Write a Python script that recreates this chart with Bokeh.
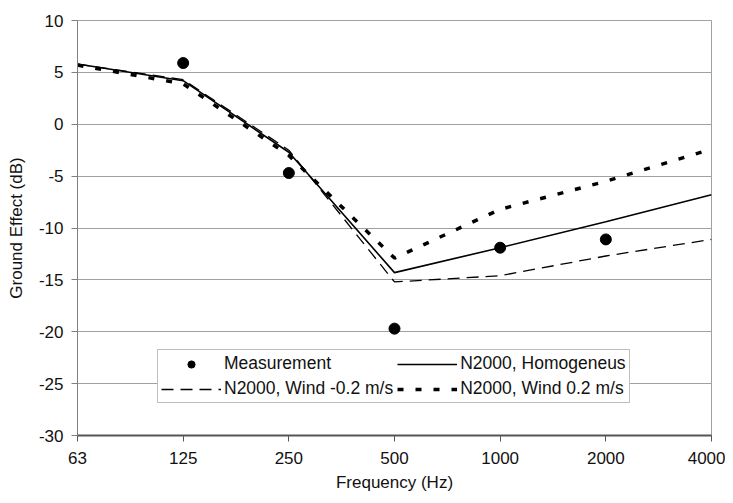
from bokeh.plotting import figure
from bokeh.models import FixedTicker, Legend, LegendItem, Range1d
from bokeh.embed import file_html
from bokeh.resources import INLINE

freq_labels = ["63", "125", "250", "500", "1000", "2000", "4000"]
x_idx = list(range(len(freq_labels)))

meas_x = [1, 2, 3, 4, 5]
meas_y = [5.9, -4.7, -19.7, -11.9, -11.1]

homog = [5.8, 4.2, -2.7, -14.3, -11.9, -9.4, -6.8]
wind_neg = [5.8, 4.3, -2.5, -15.2, -14.6, -12.7, -11.1]
wind_pos = [5.7, 3.9, -3.0, -12.9, -8.2, -5.5, -2.4]

y_ticks = [-30, -25, -20, -15, -10, -5, 0, 5, 10]
y_tick_labels = ["-30", "-25", "-20", "-15", "-10", "-5", "0", "5", "10"]

FONT = "Liberation Sans"
W, H = 725, 494
LEFT, TOP, RIGHT, BOTTOM = 77, 20, 711, 438

p = figure(width=W, height=H, output_backend="svg", toolbar_location=None,
           x_range=Range1d(0, 6), y_range=Range1d(-30, 10),
           min_border_left=LEFT, min_border_top=TOP,
           min_border_right=W - RIGHT, min_border_bottom=H - BOTTOM)

p.background_fill_color = "white"
p.border_fill_color = "white"
p.outline_line_color = "#a0a0a0"
p.outline_line_width = 1

p.xgrid.visible = False
p.ygrid.ticker = FixedTicker(ticks=y_ticks)
p.ygrid.grid_line_color = "#a0a0a0"
p.ygrid.grid_line_width = 1

p.xaxis.ticker = FixedTicker(ticks=x_idx)
p.xaxis.major_label_overrides = {i: s for i, s in zip(x_idx, freq_labels)}
p.yaxis.ticker = FixedTicker(ticks=y_ticks)
p.yaxis.major_label_overrides = {t: s for t, s in zip(y_ticks, y_tick_labels)}
p.xaxis.minor_tick_line_color = None
p.yaxis.minor_tick_line_color = None

for ax in (p.xaxis[0], p.yaxis[0]):
    ax.major_tick_in = 0
    ax.major_tick_out = 6
    ax.major_label_text_font = FONT
    ax.major_label_text_font_size = "17px"
    ax.major_label_text_color = "#111111"
    ax.axis_label_text_font = FONT
    ax.axis_label_text_font_size = "17px"
    ax.axis_label_text_font_style = "normal"
    ax.axis_label_text_color = "#111111"

p.xaxis.axis_line_color = "#555555"
p.xaxis.axis_line_width = 2
p.xaxis.major_tick_line_color = "#555555"
p.yaxis.axis_line_color = "#808080"
p.yaxis.axis_line_width = 1
p.yaxis.major_tick_line_color = "#808080"
p.xaxis.major_label_standoff = 10
p.yaxis.major_label_standoff = 8
p.xaxis.axis_label = "Frequency (Hz)"
p.yaxis.axis_label = "Ground Effect (dB)"
p.xaxis.axis_label_standoff = 6
p.yaxis.axis_label_standoff = 10

r_wn = p.line(x_idx, wind_neg, line_color="black", line_width=1.3, line_dash="12 7")
r_wp = p.line(x_idx, wind_pos, line_color="black", line_width=3.5, line_dash="6 12")
r_h = p.line(x_idx, homog, line_color="black", line_width=1.6)
r_m = p.scatter(meas_x, meas_y, marker="circle", size=11, fill_color="black", line_color="black")

legend = Legend(items=[
    LegendItem(label="Measurement", renderers=[r_m]),
    LegendItem(label="N2000, Homogeneus", renderers=[r_h]),
    LegendItem(label="N2000, Wind -0.2 m/s", renderers=[r_wn]),
    LegendItem(label="N2000, Wind 0.2 m/s", renderers=[r_wp]),
], location=(80, 32), orientation="horizontal", nrows=2)
legend.label_text_font = FONT
legend.label_text_font_size = "17.5px"
legend.label_text_color = "#111111"
legend.glyph_width = 60
legend.glyph_height = 18
legend.label_height = 18
legend.label_standoff = 3
legend.spacing = 4
legend.padding = 3
legend.margin = 0
legend.border_line_color = "#808080"
legend.border_line_width = 1
legend.background_fill_color = "white"
legend.background_fill_alpha = 1
p.add_layout(legend, "center")

open("out.html", "w").write(file_html(p, INLINE))
